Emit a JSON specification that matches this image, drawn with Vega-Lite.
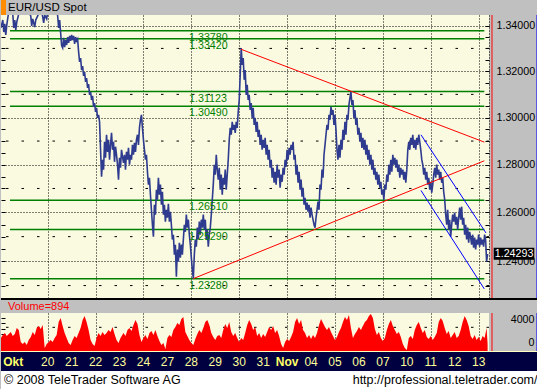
{
"$schema":"https://vega.github.io/schema/vega-lite/v6.json",
"background":"#c0c0c0",
"padding":0,
"spacing":0,
"bounds":"flush",
"config":{"view":{"stroke":null},"font":"Liberation Sans","text":{"font":"Liberation Sans"},"axis":{"labelFont":"Liberation Sans"}},
"datasets":{
"price":[
{"t":-47,"p":1.3390},{"t":-45,"p":1.3425},{"t":-44,"p":1.3372},{"t":-43,"p":1.3408},{"t":-42,"p":1.3359},{"t":-41,"p":1.3403},{"t":-40,"p":1.3434},{"t":-39,"p":1.3461},{"t":-37,"p":1.3478},{"t":-35,"p":1.3452},{"t":-34,"p":1.3390},{"t":-33,"p":1.3425},{"t":-32,"p":1.3381},{"t":-31,"p":1.3416},{"t":-30,"p":1.3434},{"t":-28,"p":1.3470},{"t":-25,"p":1.3487},{"t":-22,"p":1.3478},{"t":-19,"p":1.3461},{"t":-17,"p":1.3443},{"t":-16,"p":1.3399},{"t":-15,"p":1.3430},{"t":-13,"p":1.3394},{"t":-12,"p":1.3425},{"t":-10,"p":1.3443},{"t":-8,"p":1.3470},{"t":-6,"p":1.3461},{"t":-5,"p":1.3439},{"t":-4,"p":1.3412},{"t":-3,"p":1.3447},{"t":-1,"p":1.3430},{"t":0,"p":1.3461},{"t":3,"p":1.3478},{"t":6,"p":1.3487},{"t":9,"p":1.3470},{"t":10,"p":1.3443},{"t":11,"p":1.3390},{"t":12,"p":1.3425},{"t":13,"p":1.3368},{"t":14,"p":1.3311},{"t":15,"p":1.3302},
{"t":16,"p":1.3346},{"t":17,"p":1.3306},{"t":18,"p":1.3337},{"t":19,"p":1.3315},{"t":20,"p":1.3350},{"t":21,"p":1.3324},{"t":22,"p":1.3355},{"t":23,"p":1.3333},{"t":24,"p":1.3359},{"t":25,"p":1.3337},{"t":26,"p":1.3355},{"t":27,"p":1.3320},{"t":28,"p":1.3350},{"t":29,"p":1.3333},{"t":30,"p":1.3341},{"t":31,"p":1.3285},{"t":32,"p":1.3241},{"t":33,"p":1.3258},{"t":34,"p":1.3206},{"t":35,"p":1.3223},{"t":36,"p":1.3180},{"t":37,"p":1.3197},{"t":38,"p":1.3154},{"t":39,"p":1.3171},{"t":40,"p":1.3128},{"t":41,"p":1.3145},{"t":42,"p":1.3098},{"t":43,"p":1.3111},{"t":44,"p":1.3076},{"t":45,"p":1.3094},{"t":46,"p":1.3046},{"t":47,"p":1.3063},{"t":48,"p":1.3025},{"t":49,"p":1.3042},{"t":50,"p":1.2999},{"t":51,"p":1.3012},{"t":52,"p":1.2982},
{"t":53,"p":1.2863},{"t":54,"p":1.2749},{"t":55,"p":1.2821},{"t":56,"p":1.2779},{"t":57,"p":1.2897},{"t":58,"p":1.2829},{"t":59,"p":1.2927},{"t":60,"p":1.2854},{"t":61,"p":1.2905},{"t":62,"p":1.2821},{"t":63,"p":1.2884},{"t":64,"p":1.2935},{"t":65,"p":1.2863},{"t":66,"p":1.2897},{"t":67,"p":1.2812},{"t":68,"p":1.2876},{"t":69,"p":1.2842},{"t":70,"p":1.2800},{"t":71,"p":1.2737},{"t":72,"p":1.2829},{"t":73,"p":1.2787},{"t":74,"p":1.2863},{"t":76,"p":1.2808},{"t":77,"p":1.2842},{"t":78,"p":1.2779},{"t":79,"p":1.2854},{"t":80,"p":1.2821},{"t":81,"p":1.2871},{"t":82,"p":1.2800},{"t":83,"p":1.2842},{"t":84,"p":1.2821},{"t":85,"p":1.2884},{"t":86,"p":1.2842},{"t":87,"p":1.2893},{"t":88,"p":1.2854},{"t":89,"p":1.2905},{"t":90,"p":1.2927},{"t":91,"p":1.2884},{"t":92,"p":1.2956},{"t":93,"p":1.2991},{"t":94,"p":1.3012},{"t":95,"p":1.2956},{"t":96,"p":1.2905},{"t":97,"p":1.2863},{"t":98,"p":1.2821},{"t":99,"p":1.2842},
{"t":100,"p":1.2770},{"t":101,"p":1.2716},{"t":102,"p":1.2745},{"t":103,"p":1.2674},{"t":104,"p":1.2611},{"t":105,"p":1.2549},{"t":106,"p":1.2500},{"t":107,"p":1.2632},{"t":108,"p":1.2591},{"t":109,"p":1.2695},{"t":110,"p":1.2653},{"t":111,"p":1.2745},{"t":112,"p":1.2674},{"t":113,"p":1.2716},{"t":114,"p":1.2632},{"t":115,"p":1.2686},{"t":116,"p":1.2591},{"t":117,"p":1.2632},{"t":118,"p":1.2562},{"t":119,"p":1.2611},{"t":120,"p":1.2578},{"t":121,"p":1.2636},{"t":122,"p":1.2562},{"t":123,"p":1.2603},{"t":124,"p":1.2549},{"t":125,"p":1.2488},{"t":126,"p":1.2508},{"t":127,"p":1.2426},{"t":128,"p":1.2467},{"t":129,"p":1.2336},{"t":130,"p":1.2447},{"t":131,"p":1.2397},{"t":132,"p":1.2475},{"t":133,"p":1.2414},{"t":134,"p":1.2467},{"t":135,"p":1.2426},{"t":136,"p":1.2488},{"t":137,"p":1.2549},{"t":138,"p":1.2520},{"t":139,"p":1.2591},{"t":140,"p":1.2537},{"t":141,"p":1.2570},{"t":142,"p":1.2508},{"t":143,"p":1.2467},{"t":144,"p":1.2414},{"t":145,"p":1.2365},{"t":146,"p":1.2328},{"t":147,"p":1.2426},{"t":148,"p":1.2488},{"t":149,"p":1.2459},
{"t":150,"p":1.2537},{"t":151,"p":1.2488},{"t":152,"p":1.2562},{"t":153,"p":1.2508},{"t":154,"p":1.2570},{"t":155,"p":1.2537},{"t":156,"p":1.2591},{"t":157,"p":1.2529},{"t":158,"p":1.2570},{"t":159,"p":1.2488},{"t":160,"p":1.2529},{"t":161,"p":1.2459},{"t":162,"p":1.2508},{"t":163,"p":1.2537},{"t":164,"p":1.2591},{"t":165,"p":1.2653},{"t":166,"p":1.2716},{"t":167,"p":1.2800},{"t":168,"p":1.2758},{"t":169,"p":1.2842},{"t":170,"p":1.2779},{"t":171,"p":1.2737},{"t":172,"p":1.2787},{"t":173,"p":1.2695},{"t":174,"p":1.2758},{"t":175,"p":1.2674},{"t":176,"p":1.2745},{"t":177,"p":1.2716},{"t":178,"p":1.2779},{"t":179,"p":1.2695},{"t":180,"p":1.2758},{"t":181,"p":1.2821},{"t":182,"p":1.2905},{"t":183,"p":1.2956},{"t":184,"p":1.2927},{"t":185,"p":1.2982},{"t":186,"p":1.2948},{"t":187,"p":1.2969},{"t":188,"p":1.2935},{"t":189,"p":1.2982},{"t":190,"p":1.2956},{"t":191,"p":1.3025},{"t":192,"p":1.3076},{"t":193,"p":1.3184},{"t":194,"p":1.3302},{"t":195,"p":1.3228},{"t":196,"p":1.3258},{"t":197,"p":1.3163},{"t":198,"p":1.3206},{"t":199,"p":1.3098},
{"t":200,"p":1.3141},{"t":201,"p":1.3076},{"t":202,"p":1.3098},{"t":203,"p":1.3033},{"t":204,"p":1.3063},{"t":205,"p":1.2999},{"t":206,"p":1.3042},{"t":207,"p":1.2969},{"t":208,"p":1.2999},{"t":209,"p":1.2939},{"t":210,"p":1.2982},{"t":211,"p":1.2918},{"t":212,"p":1.2948},{"t":213,"p":1.2884},{"t":214,"p":1.2927},{"t":215,"p":1.2863},{"t":216,"p":1.2905},{"t":217,"p":1.2871},{"t":218,"p":1.2914},{"t":219,"p":1.2842},{"t":220,"p":1.2884},{"t":221,"p":1.2821},{"t":222,"p":1.2863},{"t":223,"p":1.2787},{"t":224,"p":1.2821},{"t":225,"p":1.2745},{"t":226,"p":1.2787},{"t":227,"p":1.2724},{"t":228,"p":1.2770},{"t":229,"p":1.2716},{"t":230,"p":1.2800},{"t":231,"p":1.2745},{"t":232,"p":1.2779},{"t":233,"p":1.2703},{"t":234,"p":1.2758},{"t":235,"p":1.2728},{"t":236,"p":1.2787},{"t":237,"p":1.2758},{"t":238,"p":1.2821},{"t":239,"p":1.2791},{"t":240,"p":1.2863},{"t":241,"p":1.2821},{"t":242,"p":1.2871},{"t":243,"p":1.2842},{"t":244,"p":1.2884},{"t":245,"p":1.2863},{"t":246,"p":1.2897},{"t":247,"p":1.2821},{"t":248,"p":1.2842},{"t":249,"p":1.2758},
{"t":250,"p":1.2800},{"t":251,"p":1.2724},{"t":252,"p":1.2770},{"t":253,"p":1.2695},{"t":254,"p":1.2737},{"t":255,"p":1.2666},{"t":256,"p":1.2703},{"t":257,"p":1.2632},{"t":258,"p":1.2661},{"t":259,"p":1.2611},{"t":260,"p":1.2641},{"t":261,"p":1.2603},{"t":262,"p":1.2632},{"t":263,"p":1.2578},{"t":264,"p":1.2620},{"t":265,"p":1.2591},{"t":266,"p":1.2570},{"t":267,"p":1.2549},{"t":268,"p":1.2537},{"t":269,"p":1.2578},{"t":270,"p":1.2611},{"t":271,"p":1.2645},{"t":272,"p":1.2611},{"t":273,"p":1.2716},{"t":274,"p":1.2695},{"t":275,"p":1.2779},{"t":276,"p":1.2745},{"t":277,"p":1.2842},{"t":278,"p":1.2884},{"t":279,"p":1.2927},{"t":280,"p":1.2969},{"t":281,"p":1.2948},{"t":282,"p":1.3012},{"t":283,"p":1.2991},{"t":284,"p":1.3046},{"t":285,"p":1.3012},{"t":286,"p":1.3033},{"t":287,"p":1.2969},{"t":288,"p":1.3012},{"t":289,"p":1.2948},{"t":290,"p":1.2863},{"t":291,"p":1.2821},{"t":292,"p":1.2884},{"t":293,"p":1.2829},{"t":294,"p":1.2905},{"t":295,"p":1.2863},{"t":296,"p":1.2948},{"t":297,"p":1.2905},{"t":298,"p":1.2982},{"t":299,"p":1.2927},
{"t":300,"p":1.3012},{"t":301,"p":1.2991},{"t":302,"p":1.3055},{"t":303,"p":1.3085},{"t":304,"p":1.3111},{"t":305,"p":1.3055},{"t":306,"p":1.3076},{"t":307,"p":1.2999},{"t":308,"p":1.3033},{"t":309,"p":1.2969},{"t":310,"p":1.2999},{"t":311,"p":1.2927},{"t":312,"p":1.2956},{"t":313,"p":1.2897},{"t":314,"p":1.2935},{"t":315,"p":1.2871},{"t":316,"p":1.2914},{"t":317,"p":1.2863},{"t":318,"p":1.2905},{"t":319,"p":1.2842},{"t":320,"p":1.2884},{"t":321,"p":1.2821},{"t":322,"p":1.2863},{"t":323,"p":1.2800},{"t":324,"p":1.2842},{"t":325,"p":1.2779},{"t":326,"p":1.2821},{"t":327,"p":1.2758},{"t":328,"p":1.2787},{"t":329,"p":1.2737},{"t":330,"p":1.2770},{"t":331,"p":1.2716},{"t":332,"p":1.2758},{"t":333,"p":1.2703},{"t":334,"p":1.2728},{"t":335,"p":1.2674},{"t":336,"p":1.2695},{"t":337,"p":1.2653},{"t":338,"p":1.2716},{"t":339,"p":1.2695},{"t":340,"p":1.2758},{"t":341,"p":1.2728},{"t":342,"p":1.2800},{"t":343,"p":1.2758},{"t":344,"p":1.2821},{"t":345,"p":1.2770},{"t":346,"p":1.2842},{"t":347,"p":1.2800},{"t":348,"p":1.2829},{"t":349,"p":1.2787},
{"t":350,"p":1.2821},{"t":351,"p":1.2770},{"t":352,"p":1.2800},{"t":353,"p":1.2745},{"t":354,"p":1.2787},{"t":355,"p":1.2758},{"t":356,"p":1.2779},{"t":357,"p":1.2737},{"t":358,"p":1.2770},{"t":359,"p":1.2724},{"t":360,"p":1.2779},{"t":361,"p":1.2863},{"t":362,"p":1.2897},{"t":363,"p":1.2863},{"t":364,"p":1.2914},{"t":365,"p":1.2884},{"t":366,"p":1.2927},{"t":367,"p":1.2871},{"t":368,"p":1.2905},{"t":369,"p":1.2863},{"t":370,"p":1.2914},{"t":371,"p":1.2884},{"t":372,"p":1.2927},{"t":373,"p":1.2897},{"t":374,"p":1.2863},{"t":375,"p":1.2821},{"t":376,"p":1.2800},{"t":377,"p":1.2758},{"t":378,"p":1.2787},{"t":379,"p":1.2737},{"t":380,"p":1.2770},{"t":381,"p":1.2716},{"t":382,"p":1.2745},{"t":383,"p":1.2695},{"t":384,"p":1.2728},{"t":385,"p":1.2682},{"t":386,"p":1.2716},{"t":387,"p":1.2758},{"t":388,"p":1.2787},{"t":389,"p":1.2745},{"t":390,"p":1.2800},{"t":391,"p":1.2758},{"t":392,"p":1.2779},{"t":393,"p":1.2737},{"t":394,"p":1.2770},{"t":395,"p":1.2724},{"t":396,"p":1.2745},{"t":397,"p":1.2686},{"t":398,"p":1.2653},{"t":399,"p":1.2591},
{"t":400,"p":1.2549},{"t":401,"p":1.2611},{"t":402,"p":1.2529},{"t":403,"p":1.2570},{"t":404,"p":1.2500},{"t":405,"p":1.2549},{"t":406,"p":1.2591},{"t":407,"p":1.2562},{"t":408,"p":1.2599},{"t":409,"p":1.2549},{"t":410,"p":1.2582},{"t":411,"p":1.2529},{"t":412,"p":1.2578},{"t":413,"p":1.2620},{"t":414,"p":1.2570},{"t":415,"p":1.2624},{"t":416,"p":1.2549},{"t":417,"p":1.2578},{"t":418,"p":1.2508},{"t":419,"p":1.2549},{"t":420,"p":1.2488},{"t":421,"p":1.2537},{"t":422,"p":1.2475},{"t":423,"p":1.2520},{"t":424,"p":1.2496},{"t":425,"p":1.2467},{"t":426,"p":1.2508},{"t":427,"p":1.2455},{"t":428,"p":1.2496},{"t":429,"p":1.2447},{"t":430,"p":1.2488},{"t":431,"p":1.2467},{"t":432,"p":1.2508},{"t":433,"p":1.2459},{"t":434,"p":1.2496},{"t":435,"p":1.2467},{"t":436,"p":1.2488},{"t":437,"p":1.2459},{"t":438,"p":1.2508},{"t":439,"p":1.2488},{"t":440,"p":1.2397},{"t":441,"p":1.24293}
],
"vol":[
{"t":-47,"v":2370},{"t":-45,"v":2910},{"t":-43,"v":3280},{"t":-41,"v":2730},{"t":-39,"v":3090},{"t":-37,"v":3460},{"t":-35,"v":2730},{"t":-33,"v":3090},{"t":-31,"v":4190},{"t":-29,"v":3820},{"t":-27,"v":1640},{"t":-25,"v":1270},{"t":-23,"v":1640},{"t":-21,"v":1090},{"t":-19,"v":2000},{"t":-17,"v":2550},{"t":-15,"v":3460},{"t":-13,"v":2910},{"t":-11,"v":4190},{"t":-9,"v":4550},{"t":-7,"v":4000},{"t":-5,"v":4730},{"t":-3,"v":550},{"t":-1,"v":1270},{"t":1,"v":1640},{"t":3,"v":2000},{"t":5,"v":1640},{"t":7,"v":2370},{"t":9,"v":2910},{"t":11,"v":5280},{"t":13,"v":6010},{"t":15,"v":4550},{"t":17,"v":3280},{"t":19,"v":2370},{"t":21,"v":1460},{"t":23,"v":1090},{"t":25,"v":2000},{"t":27,"v":2730},{"t":29,"v":2370},{"t":31,"v":3280},{"t":33,"v":4190},{"t":35,"v":5640},{"t":37,"v":6370},{"t":39,"v":5280},{"t":41,"v":3820},{"t":43,"v":2000},{"t":45,"v":1270},{"t":47,"v":910},{"t":49,"v":2370},{"t":51,"v":3280},{"t":53,"v":2730},{"t":55,"v":3460},{"t":57,"v":2910},{"t":59,"v":3280},{"t":61,"v":3820},{"t":63,"v":3460},{"t":65,"v":4370},{"t":67,"v":3090},{"t":69,"v":2000},{"t":71,"v":1460},{"t":73,"v":2370},
{"t":76,"v":3280},{"t":78,"v":2730},{"t":80,"v":3820},{"t":82,"v":4190},{"t":84,"v":3640},{"t":86,"v":4730},{"t":88,"v":5640},{"t":90,"v":4910},{"t":92,"v":2910},{"t":94,"v":1640},{"t":96,"v":2370},{"t":98,"v":2910},{"t":100,"v":2180},{"t":102,"v":3280},{"t":104,"v":3640},{"t":106,"v":2910},{"t":108,"v":3820},{"t":110,"v":2730},{"t":112,"v":1820},{"t":114,"v":1090},{"t":116,"v":1460},{"t":118,"v":360},{"t":120,"v":2370},{"t":122,"v":2910},{"t":124,"v":2550},{"t":126,"v":3820},{"t":128,"v":4370},{"t":130,"v":5100},{"t":132,"v":4730},{"t":134,"v":5820},{"t":136,"v":6190},{"t":138,"v":3460},{"t":140,"v":2730},{"t":142,"v":2000},{"t":144,"v":1460},{"t":146,"v":1090},{"t":148,"v":2180},{"t":150,"v":3090},{"t":152,"v":3820},{"t":154,"v":3280},{"t":156,"v":4190},{"t":158,"v":5280},{"t":160,"v":5640},{"t":162,"v":4730},{"t":164,"v":3280},{"t":166,"v":2550},{"t":168,"v":2000},{"t":170,"v":2730},{"t":172,"v":2910},{"t":174,"v":2370},{"t":176,"v":3820},{"t":178,"v":4910},{"t":180,"v":4190},{"t":182,"v":5280},{"t":184,"v":3460},{"t":186,"v":2730},{"t":188,"v":3280},{"t":190,"v":2370},{"t":192,"v":1640},{"t":194,"v":2370},{"t":196,"v":2000},{"t":198,"v":3280},
{"t":200,"v":4730},{"t":202,"v":5640},{"t":204,"v":4910},{"t":206,"v":3820},{"t":208,"v":4370},{"t":210,"v":2730},{"t":212,"v":3280},{"t":214,"v":2370},{"t":216,"v":3090},{"t":218,"v":2550},{"t":220,"v":3460},{"t":222,"v":4370},{"t":224,"v":3820},{"t":226,"v":4550},{"t":228,"v":3280},{"t":230,"v":3820},{"t":232,"v":2730},{"t":234,"v":1270},{"t":236,"v":550},{"t":238,"v":1640},{"t":240,"v":2180},{"t":242,"v":1820},{"t":244,"v":2550},{"t":246,"v":3460},{"t":248,"v":5280},{"t":250,"v":6010},{"t":252,"v":4910},{"t":254,"v":5640},{"t":256,"v":3820},{"t":258,"v":3280},{"t":260,"v":2370},{"t":262,"v":2910},{"t":264,"v":2180},{"t":266,"v":2910},{"t":268,"v":2370},{"t":270,"v":3280},{"t":272,"v":4730},{"t":274,"v":5820},{"t":276,"v":5100},{"t":278,"v":4370},{"t":280,"v":3820},{"t":282,"v":4370},{"t":284,"v":3460},{"t":286,"v":2730},{"t":288,"v":2000},{"t":290,"v":2550},{"t":292,"v":3460},{"t":294,"v":4190},{"t":296,"v":5280},{"t":298,"v":6190},
{"t":300,"v":5640},{"t":302,"v":6550},{"t":304,"v":4190},{"t":306,"v":2370},{"t":308,"v":3090},{"t":310,"v":3640},{"t":312,"v":4370},{"t":314,"v":3820},{"t":316,"v":4550},{"t":318,"v":5280},{"t":320,"v":5640},{"t":322,"v":6370},{"t":324,"v":6730},{"t":326,"v":6010},{"t":328,"v":4000},{"t":330,"v":2910},{"t":332,"v":3460},{"t":334,"v":2370},{"t":336,"v":1820},{"t":338,"v":2370},{"t":340,"v":3820},{"t":342,"v":4910},{"t":344,"v":5640},{"t":346,"v":4550},{"t":348,"v":3820},{"t":350,"v":3090},{"t":352,"v":3460},{"t":354,"v":2550},{"t":356,"v":1270},{"t":358,"v":550},{"t":360,"v":180},{"t":362,"v":2370},{"t":364,"v":2730},{"t":366,"v":2180},{"t":368,"v":3820},{"t":370,"v":4730},{"t":372,"v":5280},{"t":374,"v":4190},{"t":376,"v":3280},{"t":378,"v":3820},{"t":380,"v":2550},{"t":382,"v":2180},{"t":384,"v":2730},{"t":386,"v":2000},{"t":388,"v":2550},{"t":390,"v":3280},{"t":392,"v":5280},{"t":394,"v":6010},{"t":396,"v":5460},{"t":398,"v":4190},
{"t":400,"v":3090},{"t":402,"v":3640},{"t":404,"v":2370},{"t":406,"v":2910},{"t":408,"v":3460},{"t":410,"v":2370},{"t":412,"v":2730},{"t":414,"v":3820},{"t":416,"v":5280},{"t":418,"v":6370},{"t":420,"v":5640},{"t":422,"v":4550},{"t":424,"v":2730},{"t":426,"v":2180},{"t":428,"v":2910},{"t":430,"v":2000},{"t":432,"v":2550},{"t":434,"v":1820},{"t":436,"v":2730},{"t":438,"v":2370},{"t":440,"v":4190},{"t":441,"v":1270}
],
"levels":[{"p":1.3378},{"p":1.3342},{"p":1.31123},{"p":1.3049},{"p":1.2651},{"p":1.2529},{"p":1.2328}],
"trend":[
{"id":"a","kind":"triangle","t":193.8,"p":1.32963},{"id":"a","kind":"triangle","t":437.7,"p":1.28955},
{"id":"b","kind":"triangle","t":146.0,"p":1.23283},{"id":"b","kind":"triangle","t":437.7,"p":1.28164},
{"id":"c","kind":"channel","t":374.2,"p":1.29266},{"id":"c","kind":"channel","t":439.4,"p":1.25151},
{"id":"d","kind":"channel","t":374.2,"p":1.26918},{"id":"d","kind":"channel","t":437.7,"p":1.22865}
],
"days":[{"t":0,"label":"20"},{"t":24,"label":"21"},{"t":48,"label":"22"},{"t":72,"label":"23"},{"t":96,"label":"24"},{"t":120,"label":"27"},{"t":144,"label":"28"},{"t":168,"label":"29"},{"t":192,"label":"30"},{"t":216,"label":"31"},{"t":264,"label":"04"},{"t":288,"label":"05"},{"t":312,"label":"06"},{"t":336,"label":"07"},{"t":360,"label":"10"},{"t":384,"label":"11"},{"t":408,"label":"12"},{"t":432,"label":"13"}],
"months":[{"t":-34.6,"label":"Okt"},{"t":240,"label":"Nov"}]
},
"vconcat":[
{"width":537,"height":15,"view":{"fill":"#c0c0c0","stroke":null},
 "layer":[
  {"data":{"values":[{}]},"mark":{"type":"rect","color":"#ff8c00"},
   "encoding":{"x":{"datum":-46.8,"type":"quantitative","scale":{"domain":[-46.8,491.5],"nice":false,"zero":false},"axis":null},"x2":{"datum":-41.8}}},
  {"data":{"values":[{"label":"EUR/USD Spot"}]},"mark":{"type":"text","align":"left","baseline":"middle","fontSize":11.5,"color":"#000","dy":0},
   "encoding":{"x":{"datum":-39.8,"type":"quantitative","scale":{"domain":[-46.8,491.5],"nice":false,"zero":false},"axis":null},"text":{"field":"label"}}}
 ]},
{"width":488,"height":283,"view":{"fill":"#fafae0","stroke":null},
 "resolve":{"axis":{"y":"independent"}},
 "layer":[
  {"data":{"name":"levels"},"mark":{"type":"rule","color":"#008000","strokeWidth":1.5},
   "encoding":{
    "x":{"datum":-37.8,"type":"quantitative","scale":{"domain":[-46.8,442.4],"nice":false,"zero":false}},
    "x2":{"datum":437.7},
    "y":{"field":"p","type":"quantitative","scale":{"type":"log","domain":[1.22497,1.34473],"nice":false},
     "axis":{"orient":"right","values":[1.23,1.235,1.24,1.245,1.25,1.255,1.26,1.265,1.27,1.275,1.28,1.285,1.29,1.295,1.3,1.305,1.31,1.315,1.32,1.325,1.33,1.335,1.34],"labels":false,"ticks":true,"tickSize":-4,"tickColor":"#000","domain":true,"domainColor":"#000","domainDash":[1,2],"grid":false,"title":null}}}},
  {"data":{"values":[{"g":1.23},{"g":1.25},{"g":1.27},{"g":1.29},{"g":1.31},{"g":1.33}]},
   "mark":{"type":"rule","color":"#000","strokeWidth":1,"strokeDash":[2.5,13]},
   "encoding":{"y":{"field":"g","type":"quantitative","scale":{"type":"log","domain":[1.22497,1.34473],"nice":false},
     "axis":{"orient":"left","values":[1.23,1.235,1.24,1.245,1.25,1.255,1.26,1.265,1.27,1.275,1.28,1.285,1.29,1.295,1.3,1.305,1.31,1.315,1.32,1.325,1.33,1.335,1.34],"labels":false,"tickSize":-4,"tickColor":"#000","domain":false,"grid":false,"title":null}}}},
  {"data":{"name":"price"},"mark":{"type":"line","color":"#2e3b8e","strokeWidth":1.6,"clip":true},
   "encoding":{
    "x":{"field":"t","type":"quantitative","scale":{"domain":[-46.8,442.4],"nice":false,"zero":false},
     "axis":{"values":[0,24,48,72,96,120,144,168,192,216,240,264,288,312,336,360,384,408,432],"grid":true,"gridColor":"#000","gridDash":[1,2],"gridOpacity":1,"labels":false,"ticks":false,"domain":false,"title":null}},
    "y":{"field":"p","type":"quantitative","scale":{"type":"log","domain":[1.22497,1.34473],"nice":false},
     "axis":{"orient":"right","values":[1.24,1.26,1.28,1.3,1.32,1.34],"format":".5f","grid":true,"gridColor":"#000","gridDash":[1,2],"gridOpacity":1,"ticks":false,"domain":false,"labelPadding":7,"labelFontSize":10.7,"labelColor":"#000","title":null}}}},
  {"data":{"name":"trend"},"mark":{"type":"line","strokeWidth":1},
   "encoding":{
    "x":{"field":"t","type":"quantitative","scale":{"domain":[-46.8,442.4],"nice":false,"zero":false}},
    "y":{"field":"p","type":"quantitative","scale":{"type":"log","domain":[1.22497,1.34473],"nice":false},"axis":null},
    "detail":{"field":"id"},
    "color":{"field":"kind","type":"nominal","scale":{"domain":["triangle","channel"],"range":["#ff0000","#0000ff"]},"legend":null}}},
  {"data":{"name":"levels"},"mark":{"type":"text","align":"left","baseline":"top","dy":2,"color":"#008000","fontSize":10.7},
   "encoding":{
    "x":{"datum":141.7,"type":"quantitative","scale":{"domain":[-46.8,442.4],"nice":false,"zero":false}},
    "y":{"field":"p","type":"quantitative","scale":{"type":"log","domain":[1.22497,1.34473],"nice":false},"axis":null},
    "text":{"field":"p","type":"quantitative","format":".5f"}}},
  {"data":{"values":[{}]},"mark":{"type":"rect","color":"#000"},
   "encoding":{
    "x":{"datum":447.1,"type":"quantitative","scale":{"domain":[-46.8,442.4],"nice":false,"zero":false}},"x2":{"datum":487.8},
    "y":{"datum":1.2405,"type":"quantitative","scale":{"type":"log","domain":[1.22497,1.34473],"nice":false},"axis":null},"y2":{"datum":1.2454}}},
  {"data":{"name":"price"},"transform":[{"filter":"datum.t == 441"}],"mark":{"type":"text","align":"center","baseline":"middle","color":"#fff","fontSize":10.7},
   "encoding":{
    "x":{"datum":467.5,"type":"quantitative","scale":{"domain":[-46.8,442.4],"nice":false,"zero":false}},
    "y":{"field":"p","type":"quantitative","scale":{"type":"log","domain":[1.22497,1.34473],"nice":false},"axis":null},
    "text":{"field":"p","type":"quantitative","format":".5f"}}},
  {"data":{"values":[{"b":445.4},{"b":490.5}]},"mark":{"type":"rule","strokeWidth":1},
   "encoding":{
    "x":{"field":"b","type":"quantitative","scale":{"domain":[-46.8,442.4],"nice":false,"zero":false}},
    "color":{"field":"b","type":"nominal","scale":{"domain":[445.4,490.5],"range":["#e8c060","#2040a0"]},"legend":null}}}
 ]},
{"width":537,"height":2,"view":{"fill":"#000000","stroke":null},"data":{"values":[]},"mark":"rect"},
{"width":537,"height":13,"view":{"fill":"#c0c0c0","stroke":null},
 "data":{"values":[{"label":"Volume=894"}]},"mark":{"type":"text","align":"left","baseline":"middle","fontSize":11,"color":"#ff0000"},
 "encoding":{"x":{"datum":-39.8,"type":"quantitative","scale":{"domain":[-46.8,491.5],"nice":false,"zero":false},"axis":null},"text":{"field":"label"}}},
{"width":488,"height":38,"view":{"fill":"#fafae0","stroke":null},
 "resolve":{"axis":{"y":"independent"}},
 "layer":[
  {"data":{"values":[{"g":4300}]},"mark":{"type":"rule","color":"#000","strokeWidth":1,"strokeDash":[2.5,13]},
   "encoding":{"y":{"field":"g","type":"quantitative","scale":{"domain":[0,6900],"nice":false,"zero":false},
    "axis":{"orient":"left","values":[1000,2000,3000,4000,5000,6000],"labels":false,"tickSize":-4,"tickColor":"#000","domain":false,"grid":false,"title":null}}}},
  {"data":{"name":"vol"},"mark":{"type":"area","color":"#ff0000","clip":true},
   "encoding":{
    "x":{"field":"t","type":"quantitative","scale":{"domain":[-46.8,442.4],"nice":false,"zero":false},
     "axis":{"values":[0,24,48,72,96,120,144,168,192,216,240,264,288,312,336,360,384,408,432],"grid":true,"gridColor":"#000","gridDash":[1,2],"gridOpacity":1,"labels":false,"ticks":false,"domain":false,"title":null}},
    "y":{"field":"v","type":"quantitative","scale":{"domain":[0,6900],"nice":false,"zero":false},
     "axis":{"orient":"right","values":[0,4000],"format":"d","ticks":false,"domain":false,"grid":false,"labelAlign":"right","labelPadding":45,"labelBaseline":"bottom","labelOffset":-4,"labelFontSize":10.7,"labelColor":"#000","title":null}}}},
  {"data":{"values":[{"b":445.4},{"b":490.5}]},"mark":{"type":"rule","strokeWidth":1},
   "encoding":{
    "x":{"field":"b","type":"quantitative","scale":{"domain":[-46.8,442.4],"nice":false,"zero":false}},
    "color":{"field":"b","type":"nominal","scale":{"domain":[445.4,490.5],"range":["#e8c060","#2040a0"]},"legend":null}}}
 ]},
{"width":537,"height":1,"view":{"fill":"#ffffc0","stroke":null},"data":{"values":[]},"mark":"rect"},
{"width":537,"height":19,"view":{"fill":"#000040","stroke":null},
 "layer":[
  {"data":{"name":"days"},"mark":{"type":"text","align":"center","baseline":"middle","fontSize":12,"color":"#ffff99"},
   "encoding":{"x":{"field":"t","type":"quantitative","scale":{"domain":[-46.8,491.5],"nice":false,"zero":false},"axis":null},"text":{"field":"label"}}},
  {"data":{"name":"months"},"mark":{"type":"text","align":"center","baseline":"middle","fontSize":12,"fontWeight":"bold","color":"#ffff66"},
   "encoding":{"x":{"field":"t","type":"quantitative","scale":{"domain":[-46.8,491.5],"nice":false,"zero":false},"axis":null},"text":{"field":"label"}}}
 ]},
{"width":537,"height":18,"view":{"fill":"#ffffff","stroke":null},
 "layer":[
  {"data":{"values":[{"label":"© 2008 TeleTrader Software AG"}]},"mark":{"type":"text","align":"left","baseline":"middle","fontSize":12.5,"color":"#000"},
   "encoding":{"x":{"datum":-43.8,"type":"quantitative","scale":{"domain":[-46.8,491.5],"nice":false,"zero":false},"axis":null},"text":{"field":"label"}}},
  {"data":{"values":[{"label":"http://professional.teletrader.com/"}]},"mark":{"type":"text","align":"right","baseline":"middle","fontSize":12.5,"color":"#000"},
   "encoding":{"x":{"datum":491.0,"type":"quantitative","scale":{"domain":[-46.8,491.5],"nice":false,"zero":false},"axis":null},"text":{"field":"label"}}}
 ]}
]
}
